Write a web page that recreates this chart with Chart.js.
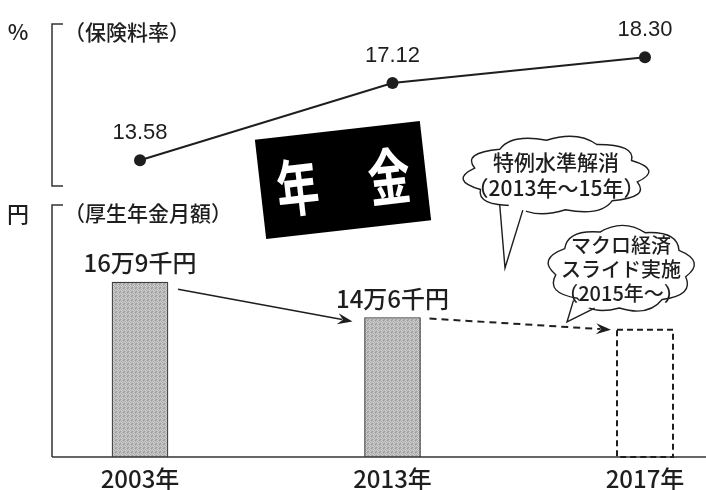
<!DOCTYPE html>
<html lang="ja">
<head>
<meta charset="utf-8">
<title>年金</title>
<script src="https://cdn.jsdelivr.net/npm/chart.js@4.4.1/dist/chart.umd.min.js"></script>
<style>
  html, body { margin: 0; padding: 0; background: #fff; }
  #wrap { width: 706px; height: 490px; position: relative; }
</style>
</head>
<body>
<div id="wrap"><canvas id="pensionChart" width="706" height="490"></canvas></div>
<script>
// categories
const years = ['2003年', '2013年', '2017年'];

// 保険料率 (%)
const premiumRate = [13.58, 17.12, 18.30];
const premiumLabels = ['13.58', '17.12', '18.30'];

// 厚生年金月額 (千円) - 2017 is only the outlook, drawn dashed
const monthlyPension = [169, 146, 138];
const pensionLabels = ['16万9千円', '14万6千円', ''];
const isOutlook = [false, false, true];
const pensionAxisMin = 55;
const pensionAxisMax = 340;

// texts around the chart
const rateTitle = ['%', '（保険料率）'];
const pensionTitle = ['円', '（厚生年金月額）'];
const badgeText = ['年', '金'];
const noteSpecial = ['特例水準解消', '（2013年〜15年）'];
const noteMacro = ['マクロ経済', 'スライド実施', '（2015年〜）'];

const ink = '#1e1e1e';
const JP = '"Noto Sans CJK JP", sans-serif';
const NUM = '"Liberation Sans", Arial, sans-serif';

// grainy grey like the printed bars
function makeGrain(ctx) {
    const c = document.createElement('canvas');
    c.width = 4; c.height = 4;
    const g = c.getContext('2d');
    const shades = ['#aeaeae', '#cdcdcd', '#bababa', '#9b9b9b',
                    '#c3c3c3', '#a4a4a4', '#d4d4d4', '#b3b3b3',
                    '#bebebe', '#d6d6d6', '#a7a7a7', '#c6c6c6',
                    '#9f9f9f', '#b7b7b7', '#cacaca', '#b0b0b0'];
    shades.forEach((s, i) => {
        g.fillStyle = s;
        g.fillRect(i % 4, Math.floor(i / 4), 1, 1);
    });
    return ctx.createPattern(c, 'repeat');
}

function arrow(ctx, x1, y1, x2, y2, dashed) {
    const a = Math.atan2(y2 - y1, x2 - x1);
    const cos = Math.cos(a), sin = Math.sin(a);
    const head = 15, half = 5.5;
    ctx.save();
    ctx.strokeStyle = ink;
    ctx.fillStyle = ink;
    ctx.lineWidth = dashed ? 2 : 1.5;
    ctx.setLineDash(dashed ? [7, 5] : []);
    ctx.beginPath();
    ctx.moveTo(x1, y1);
    ctx.lineTo(x2 - head * 0.7 * cos, y2 - head * 0.7 * sin);
    ctx.stroke();
    ctx.setLineDash([]);
    ctx.beginPath();
    ctx.moveTo(x2, y2);
    ctx.lineTo(x2 - head * cos + half * sin, y2 - head * sin - half * cos);
    ctx.lineTo(x2 - head * 0.65 * cos, y2 - head * 0.65 * sin);
    ctx.lineTo(x2 - head * cos - half * sin, y2 - head * sin + half * cos);
    ctx.closePath();
    ctx.fill();
    ctx.restore();
}

// cloud shaped speech bubble with a thin tail
function cloud(ctx, cx, cy, rx, ry, bumps, tail, lines, size, gap) {
    ctx.save();
    ctx.strokeStyle = ink;
    ctx.lineWidth = 1.4;
    ctx.fillStyle = '#fff';
    const pts = [];
    for (let i = 0; i < bumps; i++) {
        const t = (i / bumps) * Math.PI * 2 + 0.2;
        pts.push([cx + rx * Math.cos(t), cy + ry * Math.sin(t)]);
    }
    ctx.beginPath();
    ctx.moveTo(pts[0][0], pts[0][1]);
    for (let i = 0; i < bumps; i++) {
        const p = pts[(i + 1) % bumps];
        const tm = ((i + 0.5) / bumps) * Math.PI * 2 + 0.2;
        ctx.quadraticCurveTo(cx + rx * 1.3 * Math.cos(tm), cy + ry * 1.3 * Math.sin(tm), p[0], p[1]);
    }
    ctx.closePath();
    ctx.fill();
    ctx.stroke();

    // tail
    const b1 = [cx + rx * 0.9 * Math.cos(tail.a1), cy + ry * 0.9 * Math.sin(tail.a1)];
    const b2 = [cx + rx * 0.9 * Math.cos(tail.a2), cy + ry * 0.9 * Math.sin(tail.a2)];
    const o1 = [cx + rx * 1.08 * Math.cos(tail.a1), cy + ry * 1.08 * Math.sin(tail.a1)];
    const o2 = [cx + rx * 1.08 * Math.cos(tail.a2), cy + ry * 1.08 * Math.sin(tail.a2)];
    ctx.beginPath();
    ctx.moveTo(b1[0], b1[1]);
    ctx.lineTo(tail.x, tail.y);
    ctx.lineTo(b2[0], b2[1]);
    ctx.closePath();
    ctx.fill();
    ctx.beginPath();
    ctx.moveTo(o1[0], o1[1]);
    ctx.lineTo(tail.x, tail.y);
    ctx.lineTo(o2[0], o2[1]);
    ctx.stroke();

    ctx.fillStyle = ink;
    ctx.font = `500 ${size}px ${JP}`;
    ctx.textAlign = 'center';
    ctx.textBaseline = 'middle';
    const y0 = cy - (lines.length - 1) * gap / 2;
    lines.forEach((s, i) => ctx.fillText(s, cx, y0 + i * gap));
    ctx.restore();
}

const decor = {
    id: 'decor',
    beforeDatasetsDraw(chart) {
        const { ctx, chartArea } = chart;
        ctx.save();
        ctx.strokeStyle = '#333';
        ctx.lineWidth = 1.5;
        // brackets on the left
        ctx.beginPath();
        ctx.moveTo(63, 24); ctx.lineTo(52, 24); ctx.lineTo(52, 186); ctx.lineTo(63, 186);
        ctx.moveTo(63, 205); ctx.lineTo(52, 205); ctx.lineTo(52, chartArea.bottom);
        ctx.stroke();

        ctx.fillStyle = ink;
        ctx.textBaseline = 'middle';
        ctx.textAlign = 'center';
        ctx.font = `500 22px ${JP}`;
        ctx.fillText(rateTitle[0], 18, 32);
        ctx.fillText(pensionTitle[0], 18, 214);
        ctx.font = `500 21px ${JP}`;
        ctx.textAlign = 'left';
        ctx.fillText(rateTitle[1], 64, 32);
        ctx.fillText(pensionTitle[1], 64, 213);

        // black 年金 badge
        ctx.save();
        ctx.translate(343, 180);
        ctx.rotate(-6.5 * Math.PI / 180);
        ctx.fillStyle = '#000';
        ctx.fillRect(-83, -50, 166, 100);
        ctx.fillStyle = '#fff';
        ctx.font = `bold 62px ${JP}`;
        ctx.textAlign = 'center';
        badgeText.forEach((ch, i) => {
            ctx.save();
            ctx.translate(i === 0 ? -46 : 46, 2);
            ctx.scale(0.68, 1);
            ctx.fillText(ch, 0, 0);
            ctx.restore();
        });
        ctx.restore();
        ctx.restore();
    },
    afterDatasetsDraw(chart) {
        const { ctx, chartArea } = chart;
        const line = chart.getDatasetMeta(0).data;
        const bars = chart.getDatasetMeta(1).data;

        ctx.save();
        // base line
        ctx.strokeStyle = '#333';
        ctx.lineWidth = 1.5;
        ctx.beginPath();
        ctx.moveTo(52, chartArea.bottom);
        ctx.lineTo(706, chartArea.bottom);
        ctx.stroke();

        // dashed outlook bar
        bars.forEach((b, i) => {
            if (!isOutlook[i]) return;
            ctx.save();
            ctx.strokeStyle = ink;
            ctx.lineWidth = 2;
            ctx.setLineDash([6, 4]);
            ctx.strokeRect(b.x - b.width / 2, b.y, b.width, b.base - b.y);
            ctx.restore();
        });

        // arrows between bar tops
        const w = bars[0].width / 2;
        arrow(ctx, bars[0].x + w + 10, bars[0].y + 7, bars[1].x - w - 12, bars[1].y + 4, false);
        arrow(ctx, bars[1].x + w + 9, bars[1].y + 1, bars[2].x - w - 6, bars[2].y, true);

        ctx.fillStyle = ink;
        ctx.textAlign = 'center';
        ctx.textBaseline = 'middle';
        // rate values over points
        ctx.font = `22px ${NUM}`;
        line.forEach((p, i) => ctx.fillText(premiumLabels[i], p.x, p.y - 27));
        // pension values over bars
        ctx.font = `500 24px ${JP}`;
        bars.forEach((b, i) => {
            if (pensionLabels[i]) ctx.fillText(pensionLabels[i], b.x, b.y - 19);
        });
        ctx.restore();

        // notes
        cloud(ctx, 556, 175, 83, 35, 10, { a1: 1.95, a2: 2.25, x: 505, y: 268 }, noteSpecial, 21, 26);
        cloud(ctx, 621, 269, 66, 39, 9, { a1: 1.95, a2: 2.3, x: 567, y: 322 }, noteMacro, 20, 24);
    }
};

const ctx = document.getElementById('pensionChart').getContext('2d');
const grain = makeGrain(ctx);

new Chart(ctx, {
    data: {
        labels: years,
        datasets: [
            {
                type: 'line',
                label: '保険料率',
                data: premiumRate,
                yAxisID: 'yRate',
                borderColor: ink,
                borderWidth: 2,
                pointRadius: 6,
                pointBackgroundColor: ink,
                pointBorderWidth: 0,
                tension: 0,
                clip: false,
                order: 0
            },
            {
                type: 'bar',
                label: '厚生年金月額',
                data: monthlyPension,
                base: pensionAxisMin,
                yAxisID: 'yPension',
                backgroundColor: isOutlook.map(o => o ? 'rgba(0,0,0,0)' : grain),
                borderColor: isOutlook.map(o => o ? 'rgba(0,0,0,0)' : '#3a3a3a'),
                borderWidth: 1.2,
                barThickness: 56,
                clip: false,
                order: 1
            }
        ]
    },
    options: {
        responsive: false,
        animation: false,
        events: [],
        layout: { padding: { left: 140, right: 61, top: 20, bottom: 0 } },
        plugins: { legend: { display: false }, tooltip: { enabled: false } },
        scales: {
            x: {
                offset: false,
                grid: { display: false, drawTicks: false },
                border: { display: false },
                ticks: {
                    color: ink,
                    font: { family: JP, size: 24, weight: '500', lineHeight: 1.05 },
                    padding: 9,
                    maxRotation: 0,
                    autoSkip: false
                },
                afterFit(scale) { scale.height = 33; }
            },
            yRate: { display: false, min: 0, max: 20 },
            yPension: { display: false, min: pensionAxisMin, max: pensionAxisMax }
        }
    },
    plugins: [decor]
});
</script>
</body>
</html>
